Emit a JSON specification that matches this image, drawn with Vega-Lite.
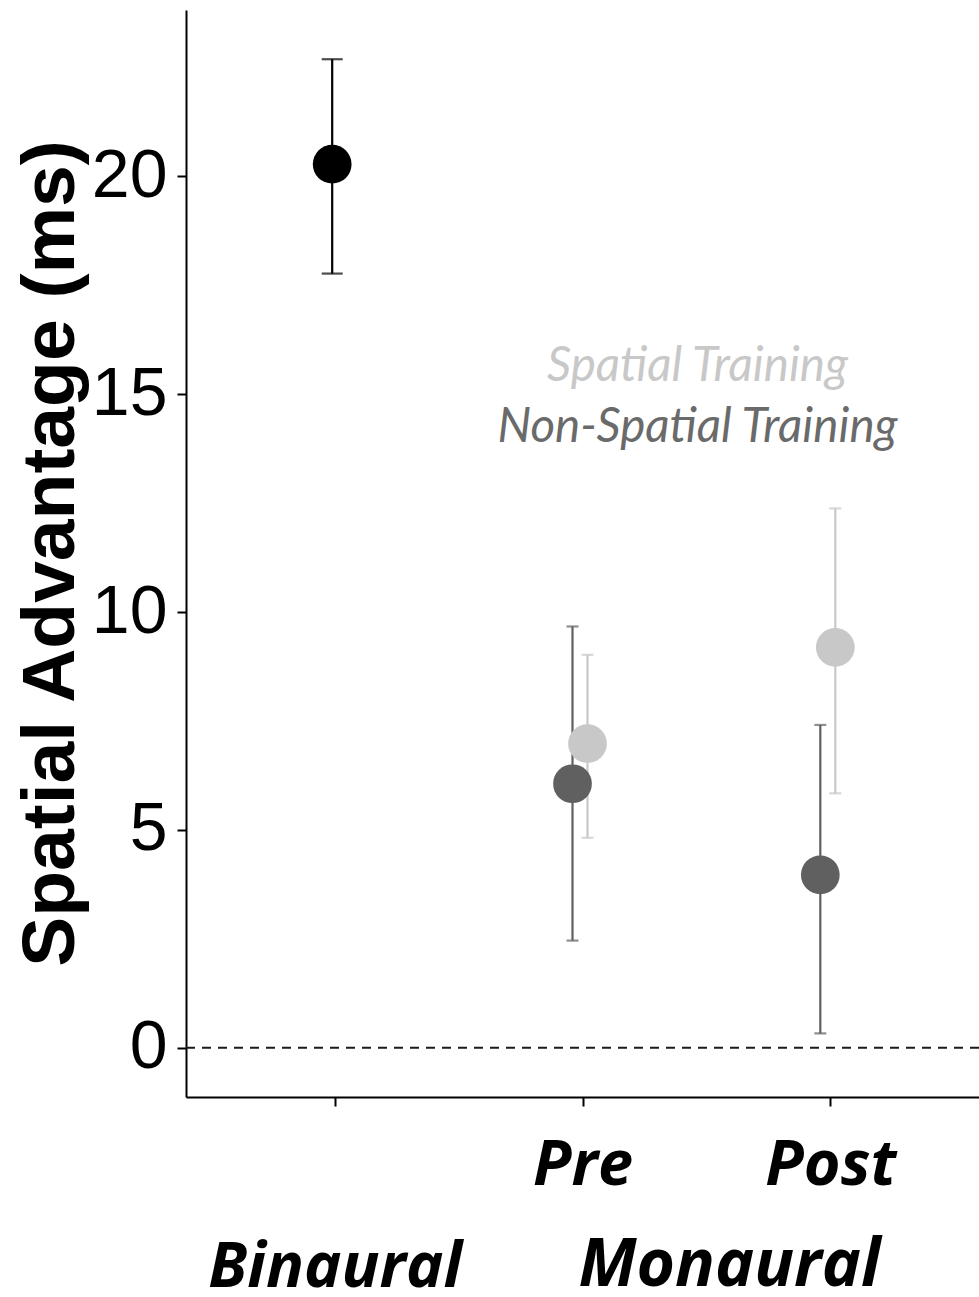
{
  "$schema": "https://vega.github.io/schema/vega-lite/v6.json",
  "width": 793,
  "height": 1087,
  "autosize": "none",
  "padding": {"left": 186, "top": 10, "right": 0, "bottom": 200},
  "background": "white",
  "config": {
    "view": {"stroke": null},
    "axis": {"grid": false, "domainColor": "black", "domainWidth": 2, "tickColor": "black", "tickWidth": 2, "tickSize": 9}
  },
  "data": {
    "values": [
      {"cond": "Binaural", "group": "Binaural", "mean": 20.28, "lo": 17.77, "hi": 22.69},
      {"cond": "Pre", "group": "Non-Spatial Training", "mean": 6.06, "lo": 2.46, "hi": 9.67},
      {"cond": "Pre", "group": "Spatial Training", "mean": 6.98, "lo": 4.82, "hi": 9.02},
      {"cond": "Post", "group": "Non-Spatial Training", "mean": 3.97, "lo": 0.33, "hi": 7.41},
      {"cond": "Post", "group": "Spatial Training", "mean": 9.19, "lo": 5.84, "hi": 12.38}
    ]
  },
  "layer": [
    {
      "data": {"values": [{"reference": 0}]},
      "mark": {"type": "rule", "strokeDash": [9, 7], "color": "#1a1a1a", "strokeWidth": 1.8},
      "encoding": {
        "y": {"field": "reference", "type": "quantitative", "scale": {"domain": [-1.13, 23.82], "nice": false, "zero": false},
          "axis": {"title": "Spatial Advantage (ms)", "values": [0, 5, 10, 15, 20], "labelFont": "Liberation Sans", "labelFontSize": 68, "labelColor": "black", "labelPadding": 10, "titleFont": "Liberation Sans", "titleFontWeight": "bold", "titleFontSize": 75, "titleColor": "black", "titleX": -113, "titleY": 543, "titleBaseline": "alphabetic", "titleAlign": "center", "titleAngle": 270}}
      }
    },
    {
      "encoding": {
        "x": {"field": "cond", "type": "nominal", "sort": ["Binaural", "Pre", "Post"],
          "scale": {"type": "point", "domain": ["Binaural", "Pre", "Post"], "padding": 0.6},
          "axis": {"title": "Monaural", "titleX": 543, "titleY": 188, "titleFont": "Open Sans", "titleFontStyle": "italic", "titleFontWeight": "bold", "titleFontSize": 66, "titleBaseline": "alphabetic", "titleAlign": "center", "titleAnchor": null, "titleColor": "black", "titleLimit": 0,
            "labelExpr": "datum.value == 'Binaural' ? ['', 'Binaural'] : datum.value", "labelFont": "Open Sans", "labelFontStyle": "italic", "labelFontWeight": "bold", "labelFontSize": 63, "labelColor": "black", "labelLineHeight": 102, "labelPadding": 28, "labelAngle": 0, "labelBaseline": "top", "labelLimit": 0}},
        "xOffset": {"field": "group", "type": "nominal", "scale": {"type": "point", "domain": ["Non-Spatial Training", "Binaural", "Spatial Training"], "range": [-10, 5], "padding": 0}},
        "color": {"field": "group", "type": "nominal",
          "scale": {"domain": ["Spatial Training", "Non-Spatial Training", "Binaural"], "range": ["#c8c8c8", "#606060", "#000000"]},
          "legend": {"values": ["Spatial Training", "Non-Spatial Training"], "title": null, "orient": "none", "legendX": 464, "legendY": 333, "labelFont": "Lato", "labelFontStyle": "italic", "labelFontSize": 47.5, "labelAlign": "center", "labelLimit": 0, "symbolSize": 0, "symbolOpacity": 0, "symbolStrokeWidth": 0, "rowPadding": 12, "labelOffset": 0,
            "labelColor": {"expr": "datum.value == 'Spatial Training' ? '#c8c8c8' : '#6a6a6a'"}}}
      },
      "layer": [
        {
          "transform": [{"filter": "datum.group == 'Binaural'"}],
          "mark": {"type": "errorbar", "thickness": 2.2, "rule": {"strokeWidth": 2.2}, "ticks": {"size": 21, "thickness": 2.2}},
          "encoding": {
            "y": {"field": "lo", "type": "quantitative", "scale": {"domain": [-1.13, 23.82], "nice": false, "zero": false},
              "axis": {"title": "Spatial Advantage (ms)", "values": [0, 5, 10, 15, 20], "labelFont": "Liberation Sans", "labelFontSize": 68, "labelColor": "black", "labelPadding": 10, "titleFont": "Liberation Sans", "titleFontWeight": "bold", "titleFontSize": 75, "titleColor": "black", "titleX": -113, "titleY": 543, "titleBaseline": "alphabetic", "titleAlign": "center", "titleAngle": 270}},
            "y2": {"field": "hi"}
          }
        },
        {
          "transform": [{"filter": "datum.group != 'Binaural'"}],
          "mark": {"type": "errorbar", "thickness": 2.2, "rule": {"strokeWidth": 2.2}, "ticks": {"size": 12, "thickness": 2.2}},
          "encoding": {
            "y": {"field": "lo", "type": "quantitative", "scale": {"domain": [-1.13, 23.82], "nice": false, "zero": false},
              "axis": {"title": "Spatial Advantage (ms)", "values": [0, 5, 10, 15, 20], "labelFont": "Liberation Sans", "labelFontSize": 68, "labelColor": "black", "labelPadding": 10, "titleFont": "Liberation Sans", "titleFontWeight": "bold", "titleFontSize": 75, "titleColor": "black", "titleX": -113, "titleY": 543, "titleBaseline": "alphabetic", "titleAlign": "center", "titleAngle": 270}},
            "y2": {"field": "hi"}
          }
        },
        {
          "mark": {"type": "circle", "size": 1500, "opacity": 1},
          "encoding": {
            "y": {"field": "mean", "type": "quantitative", "scale": {"domain": [-1.13, 23.82], "nice": false, "zero": false},
              "axis": {"title": "Spatial Advantage (ms)", "values": [0, 5, 10, 15, 20], "labelFont": "Liberation Sans", "labelFontSize": 68, "labelColor": "black", "labelPadding": 10, "titleFont": "Liberation Sans", "titleFontWeight": "bold", "titleFontSize": 75, "titleColor": "black", "titleX": -113, "titleY": 543, "titleBaseline": "alphabetic", "titleAlign": "center", "titleAngle": 270}}
          }
        }
      ]
    }
  ]
}
